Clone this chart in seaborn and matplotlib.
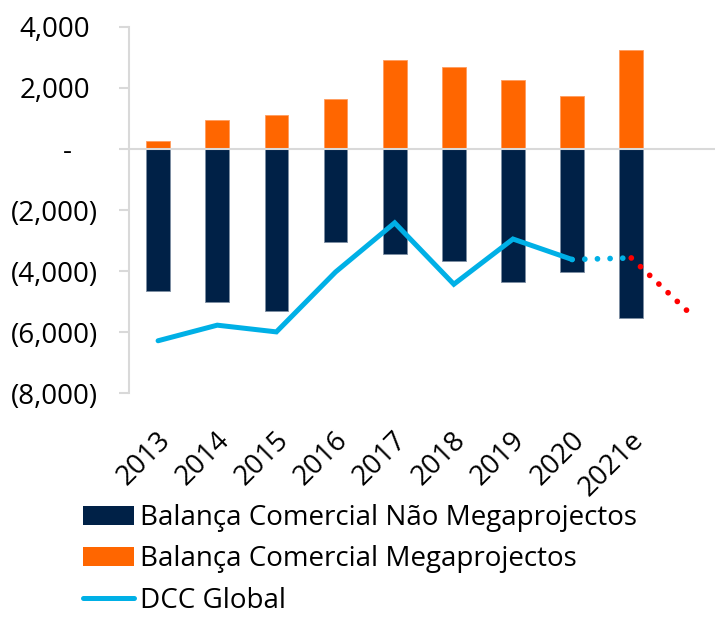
import matplotlib
matplotlib.use("Agg")
import matplotlib.pyplot as plt
import matplotlib.transforms as mtransforms
from matplotlib.patches import Patch
from matplotlib.lines import Line2D
import seaborn as sns
import pandas as pd

# ---- data ----
years = ["2013", "2014", "2015", "2016", "2017", "2018", "2019", "2020", "2021e"]
nao_mega = [-4650, -5000, -5300, -3060, -3430, -3660, -4350, -4040, -5520]
mega = [260, 950, 1115, 1640, 2920, 2690, 2260, 1740, 3250]
dcc_global = [-6280, -5770, -5990, -4030, -2420, -4430, -2950, -3620]
dcc_proj_blue = [-3620, -3570]          # 2020 -> 2021e
dcc_proj_red = [-3570, -5400]           # 2021e -> next period
yticks = [4000, 2000, 0, -2000, -4000, -6000, -8000]
ytick_labels = ["4,000", "2,000", "-", "(2,000)", "(4,000)", "(6,000)", "(8,000)"]
legend_labels = ["Balança Comercial Não Megaprojectos",
                 "Balança Comercial Megaprojectos",
                 "DCC Global"]

NAVY = "#002147"
ORANGE = "#FF6600"
BLUE = "#00B0E6"
RED = "#FF0000"
GRAY = "#D9D9D9"

sns.set_theme(style="white")
plt.rcParams["font.family"] = ["Open Sans", "DejaVu Sans"]
plt.rcParams["text.color"] = "black"

W, H = 715, 617
fig = plt.figure(figsize=(W / 100, H / 100), dpi=100)
left_px, top_px, bottom_px = 128.5, 26.7, 393.3
ax = fig.add_axes([left_px / W, 1 - bottom_px / H, 1 - left_px / W, (bottom_px - top_px) / H])

df = pd.DataFrame({"year": years, "nao": nao_mega, "mega": mega})
sns.barplot(data=df, x="year", y="nao", color=NAVY, saturation=1, width=0.4,
            edgecolor="#7d8ea3", linewidth=0.6, ax=ax, zorder=2)
sns.barplot(data=df, x="year", y="mega", color=ORANGE, saturation=1, width=0.4,
            edgecolor="#FF9C5E", linewidth=0.6, ax=ax, zorder=2)

ax.axhline(0, color=GRAY, lw=1.5, zorder=3)

lw = 3.6
pos = list(range(len(dcc_global)))
ax.plot(pos, dcc_global, color=BLUE, lw=lw, solid_capstyle="round",
        solid_joinstyle="miter", zorder=5)
ax.plot([7, 8], dcc_proj_blue, color=BLUE, lw=lw * 1.15, linestyle=(0, (0.001, 2.2)),
        dash_capstyle="round", zorder=5)
ax.plot([8, 9], dcc_proj_red, color=RED, lw=lw * 1.15, linestyle=(0, (0.001, 2.2)),
        dash_capstyle="round", zorder=6)

ax.set_xlim(-0.5, 9.415)
ax.set_ylim(-8000, 4000)
ax.set_xlabel("")
ax.set_ylabel("")

for s in ["top", "right", "bottom"]:
    ax.spines[s].set_visible(False)
ax.spines["left"].set_color(GRAY)
ax.spines["left"].set_linewidth(1.5)

ax.set_yticks(yticks)
ax.set_yticklabels(ytick_labels)
ax.tick_params(axis="y", which="major", left=True, length=7.2, width=1.5,
               color=GRAY, pad=14.4, labelsize=20, labelcolor="black")
ax.set_xticks(range(len(years)))
ax.set_xticklabels(years, rotation=45, ha="right", va="center", rotation_mode="anchor")
ax.tick_params(axis="x", bottom=False, length=0, pad=31, labelsize=20, labelcolor="black")

# accounting-style alignment of y labels
for lab in ax.get_yticklabels():
    t = lab.get_text()
    if t == "-":
        dx = -27
    elif t.startswith("("):
        dx = 0
    else:
        dx = -8
    lab.set_transform(lab.get_transform() + mtransforms.ScaledTranslation(dx / 100, 0, fig.dpi_scale_trans))
for lab in ax.get_xticklabels():
    lab.set_transform(lab.get_transform() + mtransforms.ScaledTranslation(8 / 100, 0, fig.dpi_scale_trans))

handles = [Patch(facecolor=NAVY, edgecolor="none"),
           Patch(facecolor=ORANGE, edgecolor="none"),
           Line2D([0], [0], color=BLUE, lw=lw, solid_capstyle="round")]
fig.legend(handles, legend_labels, loc="upper left",
           bbox_to_anchor=(83 / W, 1 - 504 / H), frameon=False, fontsize=20,
           borderpad=0, borderaxespad=0, handlelength=1.85, handleheight=0.65,
           handletextpad=0.2, labelspacing=0.48)

fig.savefig("out.png", dpi=100)
